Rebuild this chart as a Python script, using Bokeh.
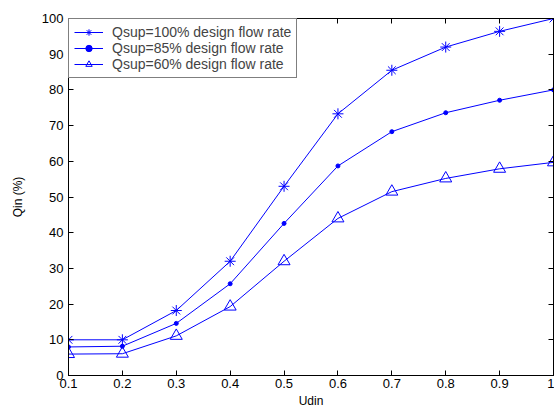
from bokeh.plotting import figure
from bokeh.models import LinearAxis, FixedTicker, Range1d, Legend, LegendItem
from bokeh.embed import file_html
from bokeh.resources import INLINE

udin = [0.1, 0.2, 0.3, 0.4, 0.5, 0.6, 0.7, 0.8, 0.9, 1.0]
q100 = [10.0, 10.0, 18.2, 32.0, 53.0, 73.3, 85.5, 92.0, 96.4, 100.0]
q85 = [8.0, 8.2, 14.6, 25.7, 42.6, 58.7, 68.3, 73.6, 77.1, 80.0]
q60 = [6.0, 6.1, 11.1, 19.3, 32.0, 44.0, 51.5, 55.2, 57.9, 59.7]
labels = ["Qsup=100% design flow rate", "Qsup=85% design flow rate", "Qsup=60% design flow rate"]
xticks = [0.1, 0.2, 0.3, 0.4, 0.5, 0.6, 0.7, 0.8, 0.9, 1.0]
yticks = [0, 10, 20, 30, 40, 50, 60, 70, 80, 90, 100]

FONT = "Liberation Sans"
BLUE = "#0000ff"

p = figure(width=554, height=410, output_backend="svg", toolbar_location=None,
           x_range=Range1d(0.1, 1.0), y_range=Range1d(0, 100),
           min_border_left=68, min_border_right=1, min_border_top=18, min_border_bottom=34,
           x_axis_label="Udin", y_axis_label="Qin (%)")
p.grid.visible = False
p.outline_line_color = "black"
p.background_fill_color = "white"

for ax in p.xaxis + p.yaxis:
    ax.major_tick_in = 5
    ax.major_tick_out = 0
    ax.minor_tick_line_color = None
    ax.axis_line_color = "black"
    ax.major_label_text_font = FONT
    ax.major_label_text_font_size = "13px"
    ax.major_label_text_color = "black"
    ax.axis_label_text_font = FONT
    ax.axis_label_text_font_size = "12px"
    ax.axis_label_text_font_style = "normal"
    ax.axis_label_text_color = "black"
p.xaxis.ticker = FixedTicker(ticks=xticks)
p.xaxis.major_label_overrides = {1.0: "1"}
p.xaxis.major_label_standoff = 3
p.xaxis.axis_label_standoff = 3
p.yaxis.ticker = FixedTicker(ticks=yticks)
p.yaxis.major_label_standoff = 5
p.yaxis.axis_label_standoff = 14

for loc, ticks in (("right", yticks), ("above", xticks)):
    ax = LinearAxis(ticker=FixedTicker(ticks=ticks))
    ax.major_tick_in = 5
    ax.major_tick_out = 0
    ax.minor_tick_line_color = None
    ax.major_label_text_font_size = "1px"
    ax.major_label_text_color = None
    ax.major_label_standoff = 0
    ax.axis_line_color = "black"
    p.add_layout(ax, loc)

l1 = p.line(udin, q100, line_color=BLUE, line_width=1)
m1 = p.scatter(udin, q100, marker="asterisk", size=11, line_color=BLUE, line_width=1)
l2 = p.line(udin, q85, line_color=BLUE, line_width=1)
m2 = p.scatter(udin, q85, marker="circle", size=4, fill_color=BLUE, line_color=BLUE)
l3 = p.line(udin, q60, line_color=BLUE, line_width=1)
m3 = p.scatter(udin, q60, marker="triangle", size=12, fill_color=None, line_color=BLUE, line_width=1)

legend = Legend(items=[LegendItem(label=labels[0], renderers=[l1, m1]),
                       LegendItem(label=labels[1], renderers=[l2, m2]),
                       LegendItem(label=labels[2], renderers=[l3, m3])],
                location="top_left", margin=0, padding=5, spacing=0,
                label_text_font=FONT, label_text_font_size="14px",
                label_height=16, glyph_height=16, glyph_width=29,
                label_standoff=9,
                border_line_color="black", border_line_width=1,
                background_fill_color="white", background_fill_alpha=1)
p.add_layout(legend)

open("out.html", "w").write(file_html(p, INLINE))
